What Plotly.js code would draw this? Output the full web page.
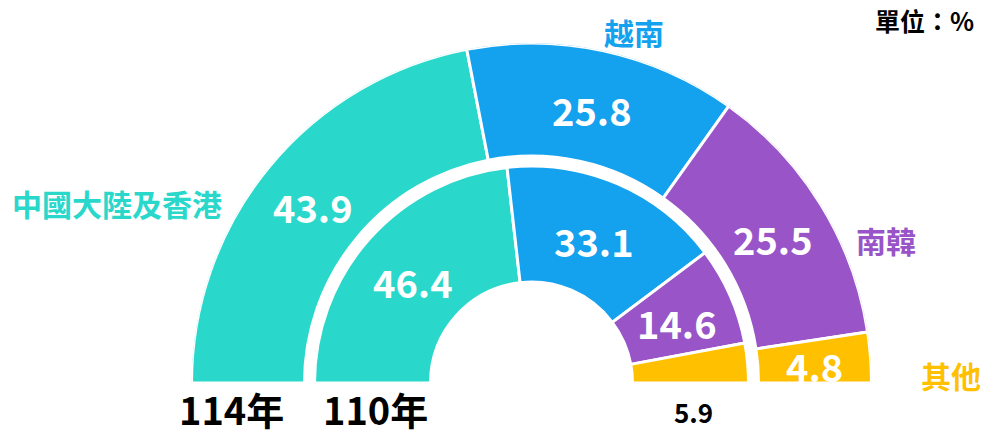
<!DOCTYPE html>
<html>
<head>
<meta charset="utf-8">
<script src="https://cdn.plot.ly/plotly-3.0.1.min.js"></script>
<style>
html,body{margin:0;padding:0;background:#fff;overflow:hidden;}
#chart{width:985px;height:436px;}
</style>
</head>
<body>
<div id="chart"></div>
<script>
// ---- data ----
const categories = ['中國大陸及香港', '越南', '南韓', '其他'];
const yearLabels = ['114年', '110年'];
const values114 = [43.9, 25.8, 25.5, 4.8];   // outer ring
const values110 = [46.4, 33.1, 14.6, 5.9];   // inner ring
const colors = ['#29D8CB', '#14A1EE', '#9955C7', '#FFC000'];
const unitLabel = '單位：%';

// ---- geometry (pixels) ----
const W = 985, H = 436;
const cx = 531.5, cy = 383;
const R_OUT = 340, R_OUT_IN = 227, R_IN_OUT = 217, R_HOLE = 101;
const FONT = '"Noto Sans CJK TC", "Noto Sans", sans-serif';

function ringTrace(vals, base, top, name) {
  const theta = [], width = [];
  let cum = 0;
  vals.forEach(v => {
    const w = v / 100 * 180;
    theta.push(cum + w / 2);
    width.push(w);
    cum += w;
  });
  return {
    type: 'barpolar', name: name,
    theta: theta, width: width,
    r: vals.map(() => top - base), base: vals.map(() => base),
    marker: {color: colors, line: {color: '#ffffff', width: 3}},
    hoverinfo: 'skip', showlegend: false
  };
}

const traces = [
  ringTrace(values114, R_OUT_IN, R_OUT, yearLabels[0]),
  ringTrace(values110, R_HOLE, R_IN_OUT, yearLabels[1])
];

function px2paper(x, y) { return {x: x / W, y: 1 - y / H}; }

const annotations = [];
function ringLabels(vals, rIn, rOut, skipLast) {
  let cum = 0;
  vals.forEach((v, i) => {
    const w = v / 100 * 180;
    const mid = (cum + w / 2) * Math.PI / 180;
    cum += w;
    if (skipLast && i === vals.length - 1) return;
    const r = (rIn + rOut) / 2;
    const p = px2paper(cx - r * Math.cos(mid), cy - r * Math.sin(mid));
    annotations.push({
      xref: 'paper', yref: 'paper', x: p.x, y: p.y, xanchor: 'center', yanchor: 'middle',
      yshift: -4, showarrow: false, text: v.toFixed(1),
      font: {family: FONT, size: 38, color: '#ffffff', weight: 'bold'}
    });
  });
}
ringLabels(values114, R_OUT_IN, R_OUT, false);
ringLabels(values110, R_HOLE, R_IN_OUT, true);

// small inner slice value shown below the ring
(function () {
  const p = px2paper(cx + (R_HOLE + R_IN_OUT) / 2 + 3, cy + 28);
  annotations.push({xref: 'paper', yref: 'paper', x: p.x, y: p.y, xanchor: 'center', yanchor: 'middle',
    showarrow: false, text: values110[values110.length - 1].toFixed(1),
    font: {family: FONT, size: 26, color: '#000000', weight: 'bold'}});
})();

// year labels
[[231, 408, yearLabels[0]], [375, 408, yearLabels[1]]].forEach(([x, y, t]) => {
  const p = px2paper(x, y);
  annotations.push({xref: 'paper', yref: 'paper', x: p.x, y: p.y, xanchor: 'center', yanchor: 'middle',
    showarrow: false, text: t, font: {family: FONT, size: 38, color: '#000000', weight: 'bold'}});
});

// category labels
const catPos = [[117, 203], [634, 32], [886, 240], [951, 375]];
categories.forEach((c, i) => {
  const p = px2paper(catPos[i][0], catPos[i][1]);
  annotations.push({xref: 'paper', yref: 'paper', x: p.x, y: p.y, xanchor: 'center', yanchor: 'middle',
    showarrow: false, text: c, font: {family: FONT, size: 30, color: colors[i], weight: 'bold'}});
});

// unit
(function () {
  const p = px2paper(976, 20);
  annotations.push({xref: 'paper', yref: 'paper', x: p.x, y: p.y, xanchor: 'right', yanchor: 'middle',
    showarrow: false, text: unitLabel, font: {family: FONT, size: 25, color: '#000000', weight: 'bold'}});
})();

const layout = {
  width: W, height: H,
  margin: {l: 0, r: 0, t: 0, b: 0},
  paper_bgcolor: '#ffffff',
  showlegend: false,
  polar: {
    domain: {x: [(cx - R_OUT) / W, (cx + R_OUT) / W], y: [(H - cy) / H, (H - cy + R_OUT) / H]},
    sector: [0, 180],
    bgcolor: 'rgba(0,0,0,0)',
    bargap: 0,
    radialaxis: {range: [0, R_OUT], visible: false, showgrid: false, showline: false, showticklabels: false},
    angularaxis: {rotation: 180, direction: 'clockwise', visible: false, showgrid: false, showline: false, showticklabels: false, ticks: ''}
  },
  annotations: annotations
};

Plotly.newPlot('chart', traces, layout, {displayModeBar: false, staticPlot: true});
</script>
</body>
</html>
